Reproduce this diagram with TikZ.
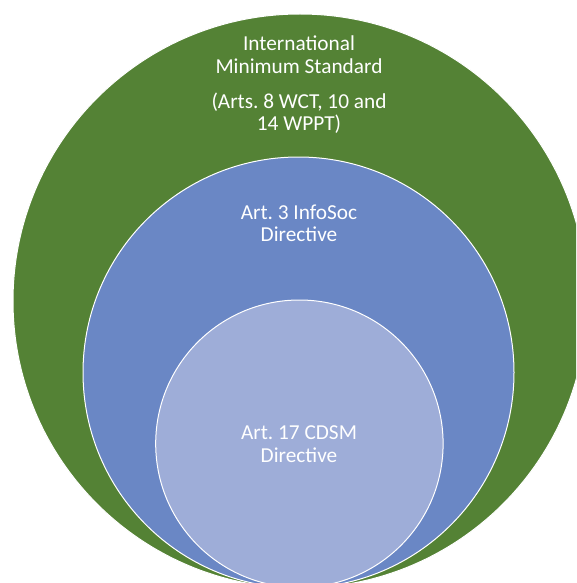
\documentclass[tikz,border=0pt]{standalone}
\usepackage{fontspec}
\setmainfont{Carlito}
\frenchspacing
\definecolor{outergreen}{RGB}{84,130,53}
\definecolor{midblue}{RGB}{106,135,197}
\definecolor{innerblue}{RGB}{158,173,216}
\tikzset{
  ring/.style={draw=white, line width=1pt},
  lbl/.style={text=white, anchor=base, inner sep=0pt, font=\fontsize{21.3}{23}\selectfont\frenchspacing}
}
\begin{document}
\begin{tikzpicture}[x=1pt,y=-1pt]
\useasboundingbox (0,0) rectangle (576,583);
\begin{scope}
\clip (0,0) rectangle (576,583);
\fill[outergreen, ring] (300,301) circle[radius=287];
\fill[midblue, ring] (298.5,372.5) circle[radius=215.5];
\fill[innerblue, ring] (299.4,443.7) circle[radius=143.7];
\end{scope}
\node[lbl] (t1) at (299,51) {International};
\node[lbl] (t2) at (299,74) {Minimum Standard};
\node[lbl] (t3) at (299,108.3) {(Arts. 8 WCT, 10 and};
\node[lbl] (t4) at (299,130.5) {14 WPPT)};
\node[lbl] (b1) at (299,219) {Art. 3 InfoSoc};
\node[lbl] (b2) at (299,241.7) {Directive};
\node[lbl] (c1) at (299,439) {Art. 17 CDSM};
\node[lbl] (c2) at (299,462) {Directive};
\end{tikzpicture}
\end{document}
